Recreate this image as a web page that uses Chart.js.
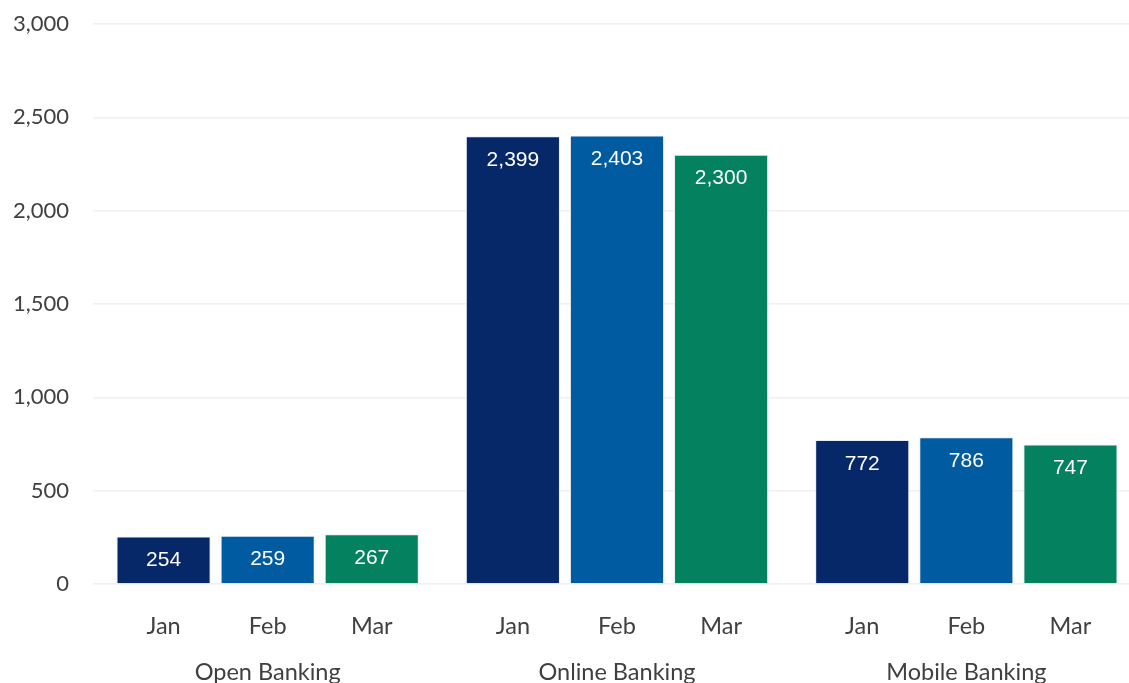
<!DOCTYPE html>
<html>
<head>
<meta charset="utf-8">
<title>Banking channels</title>
<script src="https://cdn.jsdelivr.net/npm/chart.js@4.4.1/dist/chart.umd.min.js"></script>
<style>
  html, body { margin: 0; padding: 0; background: #fff; overflow: hidden; }
  #wrap { width: 1141px; height: 683px; }
</style>
</head>
<body>
<div id="wrap"><canvas id="myChart" width="1141" height="683"></canvas></div>
<script>
const channels = ['Open Banking', 'Online Banking', 'Mobile Banking'];
const months = ['Jan', 'Feb', 'Mar'];
const janValues = [254, 2399, 772];
const febValues = [259, 2403, 786];
const marValues = [267, 2300, 747];
const monthColors = ['#062768', '#005ba1', '#04815f'];
const yTicks = [0, 500, 1000, 1500, 2000, 2500, 3000];

const textColor = '#404040';
const axisFont = { family: 'Lato', size: 22 };
const catFont = { family: 'Lato', size: 23.5 };

// value inside each bar + month name under each bar
const barText = {
  id: 'barText',
  afterDatasetsDraw(chart) {
    const ctx = chart.ctx;
    const area = chart.chartArea;
    ctx.save();
    ctx.textAlign = 'center';
    ctx.textBaseline = 'middle';
    chart.data.datasets.forEach((ds, i) => {
      const meta = chart.getDatasetMeta(i);
      meta.data.forEach((el, j) => {
        ctx.fillStyle = '#ffffff';
        ctx.font = '21px "Liberation Sans", Arial, sans-serif';
        ctx.fillText(ds.data[j].toLocaleString('en-US'), el.x, el.y + 24);
        ctx.fillStyle = textColor;
        ctx.font = '23.5px Lato';
        ctx.fillText(ds.label, el.x, area.bottom + 42);
      });
    });
    ctx.restore();
  }
};

const ctx = document.getElementById('myChart');

new Chart(ctx, {
  type: 'bar',
  data: {
    labels: channels,
    datasets: [
      { label: months[0], data: janValues, backgroundColor: monthColors[0] },
      { label: months[1], data: febValues, backgroundColor: monthColors[1] },
      { label: months[2], data: marValues, backgroundColor: monthColors[2] }
    ].map(d => Object.assign(d, {
      borderColor: 'rgba(220,228,240,0.7)',
      borderWidth: 1,
      categoryPercentage: 0.894,
      barPercentage: 0.904
    }))
  },
  options: {
    responsive: false,
    animation: false,
    layout: { padding: { left: 12, right: 0, top: 24, bottom: 0 } },
    plugins: {
      legend: { display: false },
      tooltip: { enabled: false }
    },
    scales: {
      x: {
        grid: { display: false, drawTicks: false },
        border: { display: false },
        ticks: { color: textColor, font: catFont, padding: 74 },
        afterFit: (axis) => {
          axis.height = 99;
          axis.paddingLeft = 0;
          axis.paddingRight = 0;
        }
      },
      y: {
        min: 0,
        max: 3000,
        afterBuildTicks: (axis) => { axis.ticks = yTicks.map(v => ({ value: v })); },
        grid: { color: '#eef0f5', lineWidth: 1.5, drawTicks: false },
        border: { display: false },
        ticks: {
          color: textColor,
          font: axisFont,
          padding: 24,
          callback: (v) => v.toLocaleString('en-US')
        },
        afterFit: (axis) => {
          axis.width = 81;
          axis.paddingTop = 0;
          axis.paddingBottom = 0;
        }
      }
    }
  },
  plugins: [barText]
});
</script>
</body>
</html>
